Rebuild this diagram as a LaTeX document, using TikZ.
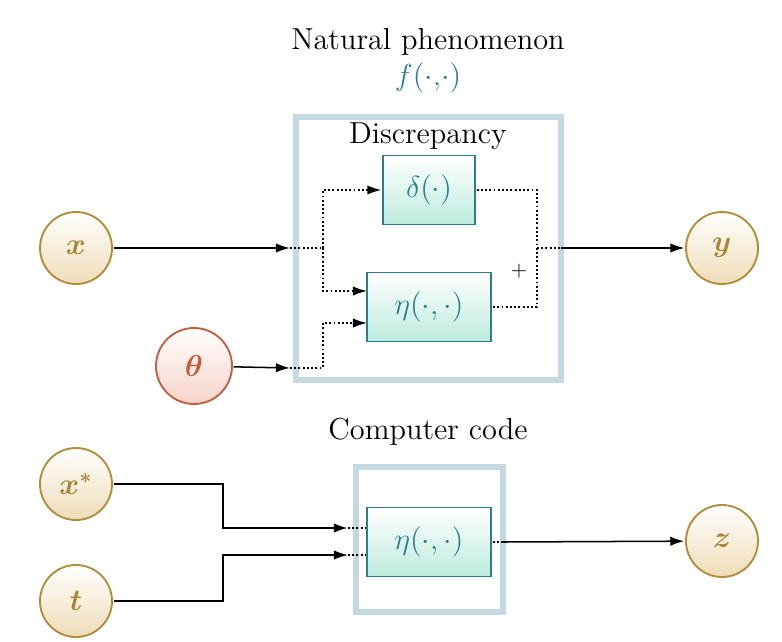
\documentclass[tikz,border=0pt]{standalone}
\usepackage{amsmath,amssymb}
\usetikzlibrary{arrows.meta}
\definecolor{gold}{HTML}{A8873A}
\definecolor{goldb}{HTML}{B08D3A}
\definecolor{goldf}{HTML}{EFDDB8}
\definecolor{redt}{HTML}{C0603F}
\definecolor{redf}{HTML}{F6D3CB}
\definecolor{teal2}{HTML}{2A7F8A}
\definecolor{mint}{HTML}{BDEBDD}
\definecolor{frame}{HTML}{C5DAE0}
\tikzset{
 var/.style={circle,draw=goldb,line width=1.6pt,minimum size=72*0.03cm,inner sep=0pt,top color=white,bottom color=goldf,text=gold,font=\Large\boldmath},
 par/.style={var,draw=redt,bottom color=redf,text=redt,minimum size=76*0.03cm},
 fun/.style={draw=teal2,line width=1.6pt,top color=white,bottom color=mint,text=teal2,font=\Large,inner sep=0pt},
 frm/.style={draw=frame,line width=5.5pt},
 arr/.style={-{Latex[length=12pt,width=8pt]},line width=1.3pt},
 dot/.style={line width=1.6pt,dotted},
 lbl/.style={font=\Large}
}
\begin{document}
\begin{tikzpicture}[x=0.03cm,y=-0.03cm,every node/.append style={scale=1.8}]
\useasboundingbox (0,0) rectangle (782,641);
\node[lbl] (t1) at (428,42) {Natural phenomenon};
\node[lbl,text=teal2] (t2) at (428,78) {$f(\cdot,\!\cdot)$};
\draw[frm] (296,117) rectangle (561,380);
\node[lbl] (t3) at (428,136) {Discrepancy};
\node[fun,minimum width=92*0.03cm/1.8,minimum height=69*0.03cm/1.8] (d) at (429,190) {$\delta(\cdot)$};
\node[fun,minimum width=124*0.03cm/1.8,minimum height=69*0.03cm/1.8] (e) at (429,307) {$\eta(\cdot,\cdot)$};
\node[var,minimum size=72*0.03cm/1.8] (x) at (76,248) {$x$};
\node[var,minimum size=72*0.03cm/1.8] (y) at (722,248) {$y$};
\node[par,minimum size=76*0.03cm/1.8] (th) at (194,366) {$\theta$};
\node[var,minimum size=72*0.03cm/1.8] (xs) at (76,484) {$x^{*}$};
\node[var,minimum size=72*0.03cm/1.8] (t) at (76,601) {$t$};
\node[var,minimum size=72*0.03cm/1.8] (z) at (722,541) {$z$};
\coordinate (a1) at (290,248);
\coordinate (a2) at (290,368);
\coordinate (m) at (537,248);
\coordinate (m2) at (561,248);
\coordinate (eu) at (367,291);
\coordinate (el) at (367,323);
\draw[arr] (x) -- (a1);
\draw[dot] (a1) -- (323,248);
\draw[dot,arr] (323,248) |- (d.west);
\draw[dot,arr] (323,248) |- (eu);
\draw[arr] (th) -- (a2);
\draw[dot,arr] (a2) -- (323,368) |- (el);
\draw[dot] (d.east) -| (537,307) -- (e.east);
\draw[dot] (m) -- (m2);
\draw[arr] (m2) -- (y);
\node (plus) at (519,271) {$+$};
\node[lbl] (t4) at (428,432) {Computer code};
\draw[frm] (356,467) rectangle (503,612);
\node[fun,minimum width=124*0.03cm/1.8,minimum height=69*0.03cm/1.8] (e2) at (429,542) {$\eta(\cdot,\cdot)$};
\coordinate (b1) at (348,528);
\coordinate (b2) at (348,555);
\draw[arr,line width=2pt] (xs) -- (223,484) -- (223,528) -- (b1);
\draw[dot] (b1) -- (e2.west |- b1);
\draw[arr] (t) -- (223,601) -- (223,555) -- (b2);
\draw[dot] (b2) -- (e2.west |- b2);
\coordinate (b3) at (503,542);
\draw[dot] (e2.east) -- (b3);
\draw[arr] (b3) -- (z);
\end{tikzpicture}
\end{document}
